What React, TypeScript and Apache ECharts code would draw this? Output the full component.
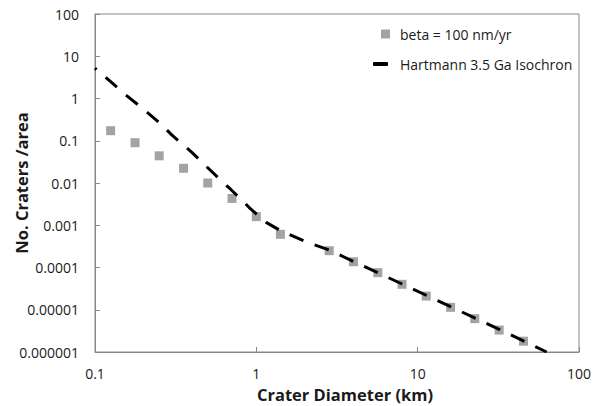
import React, { useEffect, useRef } from "react";
import * as echarts from "echarts";

const betaDiameters = [0.125, 0.177, 0.25, 0.354, 0.5, 0.707, 1.0, 1.41, 2.83, 4.0, 5.66, 8.0, 11.3, 16.0, 22.6, 32.0, 45.3];
const betaCounts = [0.173, 0.09, 0.044, 0.0223, 0.01, 0.0043, 0.0016, 0.00061, 0.00025, 0.000137, 0.0000755, 0.00004, 0.0000211, 0.0000114, 0.00000615, 0.0000033, 0.0000018];

const isoDiameters = [0.1, 0.125, 0.15, 0.2, 0.25, 0.3, 0.4, 0.5, 0.6, 0.7, 0.8, 0.9, 1.0, 1.1, 1.15, 1.41, 2.0, 2.83, 4.0, 8.0, 16.0, 32.0, 63.0];
const isoCounts = [5.2, 2.5, 1.35, 0.556, 0.27, 0.136, 0.0525, 0.023, 0.0118, 0.00684, 0.0042, 0.00266, 0.00185, 0.00134, 0.00117, 0.00075, 0.000417, 0.000258, 0.000139, 0.0000407, 0.0000118, 0.00000345, 0.000001];

const yTickLabels = ["0.000001", "0.00001", "0.0001", "0.001", "0.01", "0.1", "1", "10", "100"];
const xTickLabels = ["0.1", "1", "10", "100"];

const seriesNames = ["beta = 100 nm/yr", "Hartmann 3.5 Ga Isochron"];

const FONT = "'Open Sans', 'Liberation Sans', sans-serif";
const AXIS_GRAY = "#888888";

export default function App() {
  const ref = useRef<HTMLDivElement>(null);
  useEffect(() => {
    if (!ref.current) return;
    const chart = echarts.init(ref.current, undefined, { renderer: "svg" });
    chart.setOption({
      animation: false,
      backgroundColor: "#ffffff",
      grid: {
        left: 95,
        top: 14,
        right: 21,
        bottom: 54,
        show: true,
        borderColor: AXIS_GRAY,
        borderWidth: 1,
        containLabel: false,
        outerBoundsMode: "none",
      },
      legend: [
        {
          data: [seriesNames[0]],
          icon: "rect",
          itemWidth: 9,
          itemHeight: 9,
          left: 381,
          top: 26,
          padding: 0,
          textStyle: { fontFamily: FONT, fontSize: 14, color: "#1a1a1a", lineHeight: 16, padding: [0, 0, 0, 5] },
        },
        {
          data: [seriesNames[1]],
          icon: "roundRect",
          itemWidth: 15,
          itemHeight: 4,
          left: 373,
          top: 56,
          padding: 0,
          textStyle: { fontFamily: FONT, fontSize: 14, color: "#1a1a1a", lineHeight: 16, padding: [0, 0, 0, 7] },
        },
      ],
      xAxis: {
        type: "log",
        logBase: 10,
        min: 0.1,
        max: 100,
        interval: 1,
        name: "Crater Diameter (km)",
        nameLocation: "middle",
        nameGap: 34,
        nameMoveOverlap: false,
        nameTextStyle: { fontFamily: FONT, fontSize: 16.5, fontWeight: "bold", color: "#1a1a1a", padding: [0, 0, 0, 16] },
        axisLine: { show: true, lineStyle: { color: AXIS_GRAY, width: 1 } },
        axisTick: { show: true, inside: true, length: 5, lineStyle: { color: AXIS_GRAY } },
        minorTick: { show: false },
        splitLine: { show: false },
        axisLabel: {
          fontFamily: FONT,
          fontSize: 14,
          color: "#1a1a1a",
          margin: 14,
          formatter: (v: number) => xTickLabels[Math.round(Math.log10(v)) + 1] ?? "",
        },
      },
      yAxis: {
        type: "log",
        logBase: 10,
        min: 0.000001,
        max: 100,
        interval: 1,
        name: "No. Craters /area",
        nameLocation: "middle",
        nameGap: 74,
        nameMoveOverlap: false,
        nameRotate: 90,
        nameTextStyle: { fontFamily: FONT, fontSize: 16.5, fontWeight: "bold", color: "#1a1a1a", verticalAlign: "middle" },
        axisLine: { show: true, lineStyle: { color: AXIS_GRAY, width: 1 } },
        axisTick: { show: true, inside: true, length: 5, lineStyle: { color: AXIS_GRAY } },
        minorTick: { show: false },
        splitLine: { show: false },
        axisLabel: {
          fontFamily: FONT,
          fontSize: 14,
          color: "#1a1a1a",
          margin: 16,
          formatter: (v: number) => yTickLabels[Math.round(Math.log10(v)) + 6] ?? "",
        },
      },
      series: [
        {
          name: seriesNames[0],
          type: "scatter",
          symbol: "rect",
          symbolSize: 9,
          itemStyle: { color: "#8c8c8c" },
          data: betaDiameters.map((d, i) => [d, betaCounts[i]]),
          z: 2,
        },
        {
          name: seriesNames[1],
          type: "line",
          showSymbol: false,
          symbol: "none",
          smooth: false,
          clip: true,
          itemStyle: { color: "#000000" },
          lineStyle: { color: "#000000", width: 3, type: [15, 12], dashOffset: 13, cap: "butt" },
          data: isoDiameters.map((d, i) => [d, isoCounts[i]]),
          z: 3,
        },
      ],
    });
    return () => chart.dispose();
  }, []);
  return <div ref={ref} style={{ width: 600, height: 406, position: "absolute", left: 0, top: 0 }} />;
}
